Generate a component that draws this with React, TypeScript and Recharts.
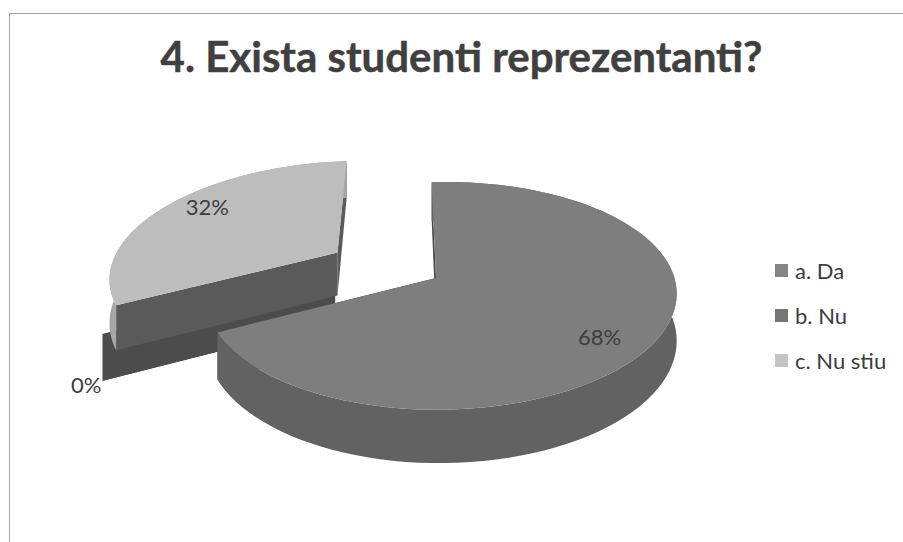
import { Legend, Pie, PieChart } from 'recharts';

const categories = ['a. Da', 'b. Nu', 'c. Nu stiu'];
const shares = [68, 0, 32];
const legendColors = ['#868686', '#767676', '#c4c4c4'];
const titleText = '4. Exista studenti reprezentanti?';

const sliceData = categories.map((name, i) => ({ name, value: shares[i], fill: legendColors[i] }));

// look of each slice in the flattened view: offset on the ground plane, face colours, label spot
const looks: Record<string, any> = {
  'a. Da': { offset: [0, 0], spread: 1, top: '#7e7e7e', outer: '#626262', cut: '#4a4a4a', rho: 0.76, drop: 13 },
  'b. Nu': { offset: [-0.44, -0.025], spread: 1.05, top: '#4f4f4f', outer: '#4f4f4f', cut: '#4c4c4c', rho: 1.12, drop: 47 },
  'c. Nu stiu': { offset: [-0.44, -0.26], spread: 1.04, top: '#bdbdbd', outer: '#a6a6a6', cut: '#5a5a5a', rho: 0.78, drop: -10 },
};

const FLAT = 0.478;
const DEPTH = 45;

// ground plane -> screen, with a bit of perspective so the front edge is bigger
const project = (cx: number, cy: number, r: number, u: number, v: number, lift = 0) => {
  const s = 1 / (1 - 0.158 * v - 0.02 * u);
  return [cx + r * u * s + 5 * v * s, cy + r * FLAT * v * s - 5 * u * s + lift * s];
};

const toPath = (pts: number[][]) =>
  'M' + pts.map((p) => `${p[0].toFixed(1)},${p[1].toFixed(1)}`).join('L') + 'Z';

const Slice3D = (props: any) => {
  const { cx, cy, outerRadius, startAngle, endAngle, name } = props;
  const look = looks[name];
  const [ox, oy] = look.offset;
  const rad = Math.PI / 180;

  const at = (deg: number, rho: number, lift = 0) =>
    project(cx, cy, outerRadius, ox + rho * look.spread * Math.cos(deg * rad), oy - rho * look.spread * Math.sin(deg * rad), lift);

  const steps = 90;
  const arcAngles = Array.from({ length: steps + 1 }, (_, i) => startAngle + ((endAngle - startAngle) * i) / steps);
  const topArc = arcAngles.map((a) => at(a, 1));
  const lowArc = arcAngles.map((a) => at(a, 1, DEPTH)).reverse();
  const apex = at(startAngle, 0);
  const apexLow = at(startAngle, 0, DEPTH);

  const cutFace = (deg: number) => toPath([apex, at(deg, 1), at(deg, 1, DEPTH), apexLow]);

  return (
    <g>
      <path d={cutFace(startAngle)} fill={look.cut} stroke="none" />
      <path d={cutFace(endAngle)} fill={look.cut} stroke="none" />
      {shares[categories.indexOf(name)] > 0 && (
        <>
          <path d={toPath([...topArc, ...lowArc])} fill={look.outer} stroke="none" />
          <path d={toPath([apex, ...topArc])} fill={look.top} stroke="none" />
        </>
      )}
    </g>
  );
};

// the big slice has to sit above the exploded ones, so it goes in its own later layer
const backShape = (props: any) => (props.name === categories[0] ? <g /> : <Slice3D {...props} />);
const frontShape = (props: any) => (props.name === categories[0] ? <Slice3D {...props} /> : <g />);

const renderLabel = (props: any) => {
  const { cx, cy, outerRadius, midAngle, name, value } = props;
  const look = looks[name];
  const rad = Math.PI / 180;
  const [x, y] = project(
    cx,
    cy,
    outerRadius,
    look.offset[0] + look.rho * Math.cos(midAngle * rad),
    look.offset[1] - look.rho * Math.sin(midAngle * rad),
  );
  return (
    <text
      x={x}
      y={y + look.drop}
      textAnchor="middle"
      dominantBaseline="central"
      fill="#3d3d3d"
      fontFamily="Lato"
      fontSize={22}
    >
      {value}%
    </text>
  );
};

const renderLegend = () => (
  <div style={{ fontFamily: 'Lato', fontSize: 22, color: '#3d3d3d' }}>
    {sliceData.map((d) => (
      <div key={d.name} style={{ display: 'flex', alignItems: 'center', height: 45 }}>
        <span style={{ width: 13, height: 13, background: d.fill, marginRight: 7 }} />
        <span>{d.name}</span>
      </div>
    ))}
  </div>
);

export default function App() {
  return (
    <div style={{ position: 'absolute', left: 0, top: 0, width: 903, height: 542, background: '#fff', overflow: 'hidden' }}>
      <div
        style={{
          position: 'absolute',
          left: 9,
          top: 13,
          width: 894,
          height: 529,
          borderTop: '1px solid #a0a0a0',
          borderLeft: '1px solid #a0a0a0',
        }}
      />
      <div
        style={{
          position: 'absolute',
          left: 0,
          top: 30,
          width: 923,
          textAlign: 'center',
          fontFamily: 'Lato',
          fontWeight: 700,
          fontSize: 42,
          lineHeight: '52px',
          color: '#404040',
          WebkitTextStroke: '0.5px #404040',
        }}
      >
        {titleText}
      </div>
      <PieChart width={903} height={542} margin={{ top: 0, right: 0, bottom: 0, left: 0 }}>
        <Pie
          data={sliceData}
          dataKey="value"
          nameKey="name"
          cx={436}
          cy={278}
          outerRadius={232}
          startAngle={90}
          endAngle={-270}
          stroke="none"
          shape={backShape}
          isAnimationActive={false}
        />
        <Pie
          data={sliceData}
          dataKey="value"
          nameKey="name"
          cx={436}
          cy={278}
          outerRadius={232}
          startAngle={90}
          endAngle={-270}
          stroke="none"
          shape={frontShape}
          label={renderLabel}
          labelLine={false}
          legendType="none"
          isAnimationActive={false}
        />
        <Legend
          layout="vertical"
          content={renderLegend}
          wrapperStyle={{ position: 'absolute', left: 775, top: 248, width: 125 }}
        />
      </PieChart>
    </div>
  );
}
